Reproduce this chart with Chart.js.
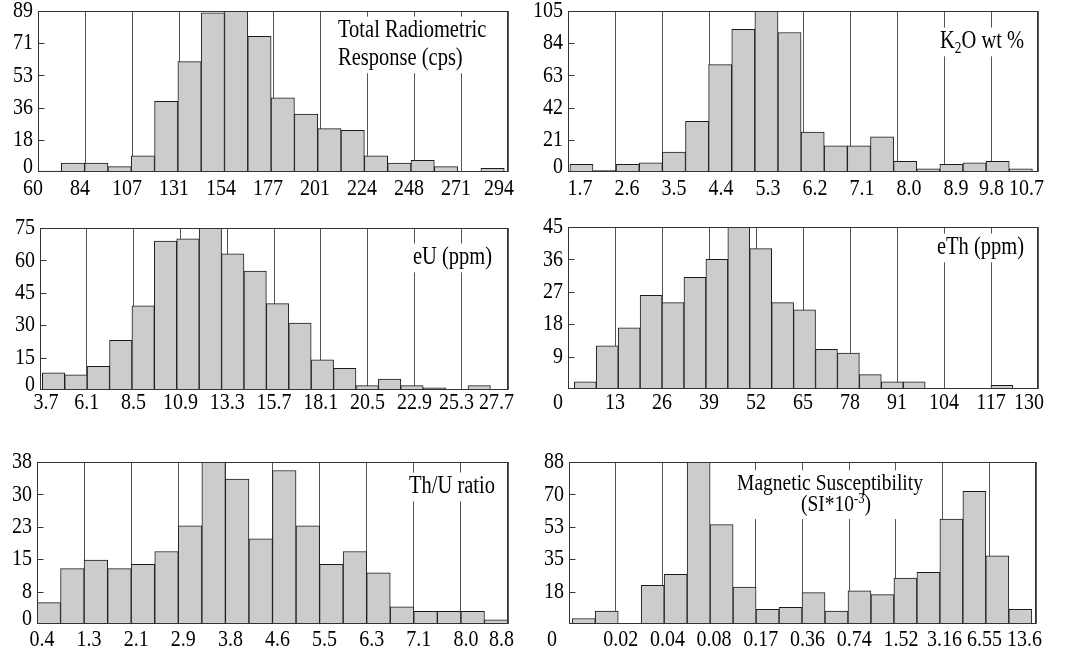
<!DOCTYPE html>
<html>
<head>
<meta charset="utf-8">
<title>Histograms</title>
<script src="https://cdn.jsdelivr.net/npm/chart.js@4.4.1/dist/chart.umd.min.js"></script>
<style>
  html, body { margin:0; padding:0; background:#ffffff; }
  #page { position:relative; width:1066px; height:655px; overflow:hidden; background:#ffffff; }
  #page canvas { position:absolute; }
</style>
</head>
<body>
<div id="page"></div>
<script>
// ---------------- data ----------------
const totalLabels = ['60','84','107','131','154','177','201','224','248','271','294'];
const totalCounts = [0.5,5,5,3,9,39,61,88,89,75,41,32,24,23,9,5,6.5,3,0,2];
const totalYTicks = ['0','18','36','53','71','89'];

const k2oLabels = ['1.7','2.6','3.5','4.4','5.3','6.2','7.1','8.0','8.9','9.8','10.7'];
const k2oCounts = [5,1,5,6,13,33,70,93,105,91,26,17,17,23,7,2,5,6,7,2];
const k2oYTicks = ['0','21','42','63','84','105'];

const euLabels = ['3.7','6.1','8.5','10.9','13.3','15.7','18.1','20.5','22.9','25.3','27.7'];
const euCounts = [8,7,11,23,39,69,70,75,63,55,40,31,14,10,2,5,2,1,0,2];
const euYTicks = ['0','15','30','45','60','75'];

const ethLabels = ['0','13','26','39','52','65','78','91','104','117','130'];
const ethCounts = [2,12,17,26,24,31,36,45,39,24,22,11,10,4,2,2,0,0,0,1];
const ethYTicks = ['','9','18','27','36','45'];

const thuLabels = ['0.4','1.3','2.1','2.9','3.8','4.6','5.5','6.3','7.1','8.0','8.8'];
const thuCounts = [5,13,15,13,14,17,23,38,34,20,36,23,14,17,12,4,3,3,3,1];
const thuYTicks = ['0','8','15','23','30','38'];

const magLabels = ['0','0.02','0.04','0.08','0.17','0.36','0.74','1.52','3.16','6.55','13.6'];
const magCounts = [3,7,0,21,27,88,54,20,8,9,17,7,18,16,25,28,57,72,37,8];
const magYTicks = ['','18','35','53','70','88'];

// ---------------- styling / layout ----------------
const FONT = '"Liberation Serif", "Times New Roman", serif';
const AXIS_H = 30;
const STRETCH = 1.18;   // glyphs in the original figure are drawn vertically elongated

const panels = [
  { labels: totalLabels, counts: totalCounts, yTicks: totalYTicks, binStart: 0, binWidth: 0.496,
    canvas: {left:0, top:0, width:533, height:210}, area: {left:38, right:508, top:11, bottom:172},
    labelOffset: -5, firstShift: 0, labelDy: 17,
    note: { size: 20.5, lines: [
      {x:338, y:37, segs:[{t:'Total Radiometric'}]},
      {x:338, y:65, segs:[{t:'Response (cps)'}]} ] } },
  { labels: k2oLabels, counts: k2oCounts, yTicks: k2oYTicks, binStart: 0.04, binWidth: 0.492,
    canvas: {left:533, top:0, width:533, height:210}, area: {left:568, right:1038, top:11, bottom:172},
    labelOffset: 12, firstShift: 0, labelDy: 17,
    note: { size: 20.5, lines: [
      {x:940, y:48, segs:[{t:'K'},{t:'2', sub:true},{t:'O wt %'}]} ] } },
  { labels: euLabels, counts: euCounts, yTicks: euYTicks, binStart: 0.05, binWidth: 0.4787,
    canvas: {left:0, top:215, width:533, height:215}, area: {left:40, right:508, top:228, bottom:390},
    labelOffset: 0, firstShift: 6, labelDy: 13,
    note: { size: 20.5, lines: [
      {x:413, y:264, segs:[{t:'eU (ppm)'}]} ] } },
  { labels: ethLabels, counts: ethCounts, yTicks: ethYTicks, binStart: 0.135, binWidth: 0.4665,
    canvas: {left:533, top:215, width:533, height:215}, area: {left:568, right:1038, top:227, bottom:389},
    labelOffset: 0, firstShift: -10, labelDy: 14,
    note: { size: 20.5, lines: [
      {x:937, y:254, segs:[{t:'eTh (ppm)'}]} ] } },
  { labels: thuLabels, counts: thuCounts, yTicks: thuYTicks, binStart: 0, binWidth: 0.5,
    canvas: {left:0, top:440, width:533, height:215}, area: {left:37, right:508, top:462, bottom:624},
    labelOffset: 5, firstShift: 0, labelDy: 16,
    note: { size: 20.5, lines: [
      {x:409, y:493, segs:[{t:'Th/U ratio'}]} ] } },
  { labels: magLabels, counts: magCounts, yTicks: magYTicks, binStart: 0.07, binWidth: 0.492,
    canvas: {left:533, top:440, width:533, height:215}, area: {left:569, right:1036, top:462, bottom:624},
    labelOffset: 5, firstShift: -22, labelDy: 16,
    note: { size: 19.5, lines: [
      {x:830, y:490, align:'center', segs:[{t:'Magnetic Susceptibility'}]},
      {x:836, y:511, align:'center', segs:[{t:'(SI*10'},{t:'-3', sup:true},{t:')'}]} ] } }
];

function segFont(size, small) { return (small ? size * 0.65 : size) + 'px ' + FONT; }
function measureSegs(ctx, segs, size) {
  let w = 0;
  segs.forEach(s => { ctx.font = segFont(size, s.sub || s.sup); w += ctx.measureText(s.t).width; });
  return w;
}
function stretchedText(ctx, text, x, y) {
  ctx.save();
  ctx.translate(x, y);
  ctx.scale(1, STRETCH);
  ctx.fillText(text, 0, 0);
  ctx.restore();
}
function drawNote(ctx, note, offX, offY) {
  ctx.save();
  const size = note.size;
  let minX = Infinity, maxX = -Infinity, minY = Infinity, maxY = -Infinity;
  const lines = note.lines.map(line => {
    const w = measureSegs(ctx, line.segs, size);
    const x0 = (line.align === 'center' ? line.x - w / 2 : line.x) - offX;
    const y = line.y - offY;
    minX = Math.min(minX, x0); maxX = Math.max(maxX, x0 + w);
    minY = Math.min(minY, y - size * 0.72 * STRETCH); maxY = Math.max(maxY, y + size * 0.22 * STRETCH);
    return { x0, y, segs: line.segs };
  });
  ctx.fillStyle = '#ffffff';
  ctx.fillRect(minX - 4, minY - 3, maxX - minX + 8, maxY - minY + 6);
  ctx.fillStyle = '#000000';
  ctx.textAlign = 'left';
  ctx.textBaseline = 'alphabetic';
  lines.forEach(l => {
    let x = l.x0;
    l.segs.forEach(s => {
      const small = s.sub || s.sup;
      ctx.font = segFont(size, small);
      const dy = (s.sub ? size * 0.22 : (s.sup ? -size * 0.36 : 0)) * STRETCH;
      stretchedText(ctx, s.t, x, l.y + dy);
      x += ctx.measureText(s.t).width;
    });
  });
  ctx.restore();
}

const page = document.getElementById('page');

panels.forEach((p, idx) => {
  const c = document.createElement('canvas');
  c.width = p.canvas.width; c.height = p.canvas.height;
  c.style.left = p.canvas.left + 'px'; c.style.top = p.canvas.top + 'px';
  c.style.width = p.canvas.width + 'px'; c.style.height = p.canvas.height + 'px';
  page.appendChild(c);

  const yMax = parseFloat(p.yTicks[p.yTicks.length - 1]);
  const nInt = p.labels.length - 1;
  const points = p.counts.map((v, i) => ({ x: p.binStart + (i + 0.5) * p.binWidth, y: v }));
  const pad = {
    left: p.area.left - p.canvas.left,
    right: p.canvas.left + p.canvas.width - p.area.right,
    top: p.area.top - p.canvas.top,
    bottom: p.canvas.top + p.canvas.height - p.area.bottom - AXIS_H
  };

  const decor = {
    id: 'decor' + idx,
    beforeDatasetsDraw(chart) {
      drawNote(chart.ctx, p.note, p.canvas.left, p.canvas.top);
    },
    afterDatasetsDraw(chart) {
      const { ctx, chartArea: a } = chart;
      const y = chart.scales.y, xs = chart.scales.x;
      ctx.save();
      const L = Math.round(a.left) + 0.5, T = Math.round(a.top) + 0.5;
      const R = Math.round(a.right) - 0.5, B = Math.round(a.bottom) - 0.5;
      ctx.strokeStyle = '#333333';
      ctx.lineWidth = 1;
      ctx.strokeRect(L, T, R - L, B - T);
      ctx.fillStyle = '#000000';
      ctx.font = '20px ' + FONT;
      ctx.textBaseline = 'middle';
      // y-axis labels and inward tick marks
      ctx.textAlign = 'right';
      const n = p.yTicks.length;
      p.yTicks.forEach((lab, k) => {
        const v = yMax * k / (n - 1);
        const py = y.getPixelForValue(v);
        if (k > 0 && k < n - 1) {
          ctx.beginPath();
          ctx.moveTo(L, Math.round(py) + 0.5);
          ctx.lineTo(L + 6, Math.round(py) + 0.5);
          ctx.stroke();
        }
        if (lab) stretchedText(ctx, lab, a.left - 5, py - (k === 0 ? 5 : 0));
      });
      // x-axis labels (positions from the x scale; last label kept near the frame, no overlaps)
      ctx.textAlign = 'center';
      const m = p.labels.length;
      const widths = p.labels.map(l => ctx.measureText(l).width);
      const cxs = p.labels.map((lab, i) => xs.getPixelForValue(i) + p.labelOffset + (i === 0 ? p.firstShift : 0));
      cxs[m - 1] = Math.min(cxs[m - 1], a.right + 6 - widths[m - 1] / 2);
      for (let i = m - 2; i >= 0; i--) {
        const maxC = cxs[i + 1] - widths[i + 1] / 2 - 5 - widths[i] / 2;
        if (cxs[i] > maxC) cxs[i] = maxC;
      }
      p.labels.forEach((lab, i) => stretchedText(ctx, lab, cxs[i], a.bottom + p.labelDy));
      ctx.restore();
    }
  };

  new Chart(c, {
    type: 'bar',
    data: {
      datasets: [{
        data: points,
        backgroundColor: '#cccccc',
        borderColor: '#1c1c1c',
        borderWidth: 1,
        borderSkipped: 'start',
        barPercentage: 1,
        categoryPercentage: 1
      }]
    },
    options: {
      responsive: false,
      animation: false,
      devicePixelRatio: 1,
      events: [],
      layout: { padding: pad },
      plugins: { legend: { display: false }, tooltip: { enabled: false }, title: { display: false } },
      scales: {
        x: {
          type: 'linear',
          min: 0,
          max: nInt,
          offset: false,
          afterBuildTicks: s => { s.ticks = p.labels.map((_, i) => ({ value: i })); },
          afterFit: s => { s.height = AXIS_H; },
          ticks: { display: false, autoSkip: false, maxRotation: 0, minRotation: 0 },
          grid: { display: true, drawTicks: false, offset: false, color: '#555555', lineWidth: 1 },
          border: { display: false }
        },
        y: { display: false, min: 0, max: yMax }
      }
    },
    plugins: [decor]
  });
});
</script>
</body>
</html>
